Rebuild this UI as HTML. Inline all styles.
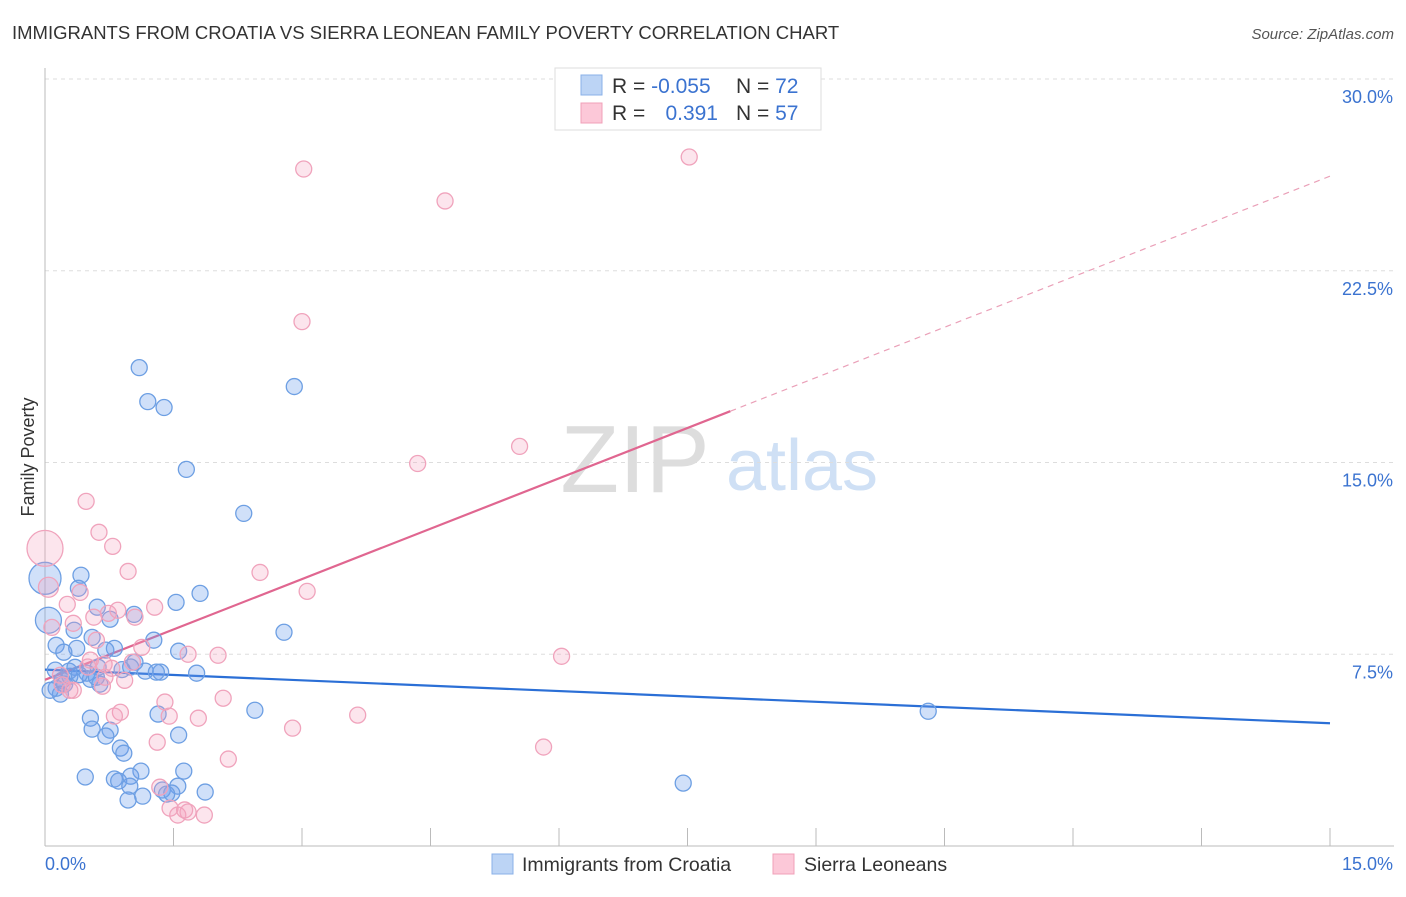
<!DOCTYPE html>
<html><head><meta charset="utf-8"><style>
body{margin:0;background:#fff;font-family:"Liberation Sans",sans-serif;}
svg text{font-family:"Liberation Sans",sans-serif;}
</style></head><body>
<svg id="chart" width="1406" height="892" xmlns="http://www.w3.org/2000/svg">
<text x="12" y="39" font-size="18.5" fill="#333">IMMIGRANTS FROM CROATIA VS SIERRA LEONEAN FAMILY POVERTY CORRELATION CHART</text>
<text x="1394" y="39" font-size="15" fill="#555" font-style="italic" text-anchor="end">Source: ZipAtlas.com</text>
<text x="34" y="457" font-size="18" fill="#333" text-anchor="middle" transform="rotate(-90 34 457)">Family Poverty</text>
<g>
<text x="635" y="492" font-size="96" fill="#ddd" font-family="Liberation Serif,serif" text-anchor="middle">ZIP</text>
<text x="802" y="490" font-size="72" fill="#cfe0f5" text-anchor="middle">atlas</text>
</g>
<g id="grid"></g>
<g id="axes"></g>
<g id="trends"></g>
<g id="points"></g>
<g>
<rect x="555" y="68" width="266" height="62" fill="#fff" stroke="#ddd"/>
<rect x="581" y="75" width="21" height="20" fill="#bcd4f5" stroke="#8ab0e8"/>
<rect x="581" y="103" width="21" height="20" fill="#fcc8d8" stroke="#f0a0b8"/>
<text x="612" y="93" font-size="21" fill="#333">R = <tspan fill="#3b73d0">-0.055</tspan></text>
<text x="736" y="93" font-size="21" fill="#333">N = <tspan fill="#3b73d0">72</tspan></text>
<text x="612" y="120" font-size="21" fill="#333">R = </text>
<text x="718" y="120" font-size="21" fill="#3b73d0" text-anchor="end">0.391</text>
<text x="736" y="120" font-size="21" fill="#333">N = <tspan fill="#3b73d0">57</tspan></text>
</g>
<g>
<rect x="492" y="854" width="21" height="20" fill="#bcd4f5" stroke="#8ab0e8"/>
<text x="522" y="871" font-size="19.5" fill="#333">Immigrants from Croatia</text>
<rect x="773" y="854" width="21" height="20" fill="#fcc8d8" stroke="#f0a0b8"/>
<text x="804" y="871" font-size="19.5" fill="#333">Sierra Leoneans</text>
</g>
</svg>
<script>
const yTicks=[7.5,15,22.5,30];
const yTickLabels=["7.5%","15.0%","22.5%","30.0%"];
const xTicks=[0,1.5,3,4.5,6,7.5,9,10.5,12,13.5,15];
const xEndLabels=["0.0%","15.0%"];
const blueX=[1.10,1.20,1.39,2.91,1.65,2.32,0.0,0.42,0.39,1.81,1.53,0.61,1.04,0.76,0.04,1.27,2.79,0.55,0.34,0.13,0.37,0.81,0.71,0.22,1.56,1.05,1.17,1.35,1.77,0.12,0.28,0.35,0.62,0.49,0.53,0.20,0.13,0.23,0.29,0.64,2.45,1.32,10.31,0.53,0.55,0.76,0.71,1.56,0.88,0.92,0.47,1.12,1.62,0.81,0.86,1.00,0.99,1.55,1.37,1.48,1.87,1.14,0.97,7.45,1.42,0.18,0.06,0.4,0.9,1.3,0.6,1.0];
const blueY=[18.71,17.38,17.15,17.97,14.73,13.01,10.47,10.59,10.08,9.88,9.53,9.34,9.06,8.87,8.83,8.05,8.36,8.16,8.44,7.85,7.73,7.73,7.66,7.58,7.62,7.19,6.84,6.80,6.76,6.88,6.84,6.99,6.99,6.76,6.52,6.48,6.17,6.33,6.64,6.33,5.31,5.16,5.27,5.00,4.57,4.53,4.30,4.34,3.83,3.63,2.70,2.93,2.93,2.62,2.54,2.73,2.34,2.34,2.19,2.07,2.11,1.95,1.80,2.46,2.03,5.94,6.09,6.7,6.9,6.8,6.6,7.0];
const blueR=[8,8,8,8,8,8,16,8,8,8,8,8,8,8,13,8,8,8,8,8,8,8,8,8,8,8,8,8,8,8,8,8,8,8,8,8,8,8,8,8,8,8,8,8,8,8,8,8,8,8,8,8,8,8,8,8,8,8,8,8,8,8,8,8,8,8,8,8,8,8,8,8];
const pinkX=[3.02,7.52,4.67,3.00,5.54,4.35,0.48,0.63,0.79,0.0,0.97,2.51,0.04,0.41,3.06,0.26,1.28,0.85,0.74,1.05,0.57,0.33,0.08,0.60,1.13,1.67,2.02,6.03,1.02,0.69,0.53,0.78,0.93,0.33,0.67,1.40,2.08,0.88,0.81,1.45,1.79,3.65,2.89,1.31,5.82,2.14,1.34,1.46,1.55,1.67,1.86,1.63,0.18,0.29,0.5,0.2,0.7];
const pinkY=[26.48,26.95,25.23,20.51,15.63,14.96,13.48,12.27,11.72,11.64,10.74,10.70,10.12,9.92,9.96,9.45,9.34,9.22,9.10,8.95,8.95,8.71,8.55,8.05,7.77,7.50,7.46,7.42,7.19,7.11,7.27,6.95,6.48,6.09,6.25,5.63,5.78,5.23,5.08,5.08,5.00,5.12,4.61,4.06,3.87,3.40,2.30,1.48,1.21,1.33,1.21,1.41,6.68,6.09,7.0,6.3,6.6];
const pinkR=[8,8,8,8,8,8,8,8,8,18,8,8,10,8,8,8,8,8,8,8,8,8,8,8,8,8,8,8,8,8,8,8,8,8,8,8,8,8,8,8,8,8,8,8,8,8,8,8,8,8,8,8,8,8,8,8,8];
const blueTrend=[6.9,4.8];
const pinkTrend=[6.5,26.2];
const pinkSolidEnd=8.0;

const NS="http://www.w3.org/2000/svg";
const X0=45,X1=1330,Y0=846,Y1=79;
function sx(v){return X0+(X1-X0)*v/15;}
function sy(v){return Y0-(Y0-Y1)*v/30;}
function mk(tag,attrs,parent){const e=document.createElementNS(NS,tag);for(const k in attrs)e.setAttribute(k,attrs[k]);parent.appendChild(e);return e;}
const grid=document.getElementById('grid'),axes=document.getElementById('axes'),trends=document.getElementById('trends'),pts=document.getElementById('points');
yTicks.forEach((t,i)=>{
  const l=mk('line',{x1:X0,x2:1394,y1:sy(t),y2:sy(t),stroke:'#ddd','stroke-dasharray':'4,4'},grid);
  
  
  const tx=mk('text',{x:1393,y:sy(t)+24,'font-size':18,fill:'#3b73d0','text-anchor':'end'},axes);
  tx.textContent=yTickLabels[i];
  
  
});
const ya=mk('line',{x1:X0,x2:X0,y1:68,y2:Y0,stroke:'#bbb'},axes);


const xa=mk('line',{x1:X0,x2:1394,y1:Y0,y2:Y0,stroke:'#bbb'},axes);


xTicks.forEach(t=>{
  const l=mk('line',{x1:sx(t),x2:sx(t),y1:828,y2:Y0,stroke:'#bbb'},axes);
  
  
});
const xl0=mk('text',{x:45,y:870,'font-size':18,fill:'#3b73d0'},axes);xl0.textContent=xEndLabels[0];


const xl1=mk('text',{x:1393,y:870,'font-size':18,fill:'#3b73d0','text-anchor':'end'},axes);xl1.textContent=xEndLabels[1];



function drawPts(xs,ys,rs,fill,stroke,name){
  xs.forEach((x,i)=>{
    const c=mk('circle',{cx:sx(x),cy:sy(ys[i]),r:rs[i],fill:fill,stroke:stroke,'stroke-width':1.3},pts);
    
    
  });
}
drawPts(blueX,blueY,blueR,'rgba(110,160,235,0.32)','#6d9fe3','point-croatia');
drawPts(pinkX,pinkY,pinkR,'rgba(245,160,190,0.28)','#f0a3bc','point-sierra-leonean');

const bt=mk('line',{x1:sx(0),y1:sy(blueTrend[0]),x2:sx(15),y2:sy(blueTrend[1]),stroke:'#2b6fd6','stroke-width':2.2},trends);


const pAt=x=>pinkTrend[0]+(pinkTrend[1]-pinkTrend[0])*x/15;
const pt1=mk('line',{x1:sx(0),y1:sy(pAt(0)),x2:sx(pinkSolidEnd),y2:sy(pAt(pinkSolidEnd)),stroke:'#e06690','stroke-width':2.2},trends);


const pt2=mk('line',{x1:sx(pinkSolidEnd),y1:sy(pAt(pinkSolidEnd)),x2:sx(15),y2:sy(pAt(15)),stroke:'#eaa0b8','stroke-width':1.2,'stroke-dasharray':'6,5'},trends);


</script>
</body></html>
